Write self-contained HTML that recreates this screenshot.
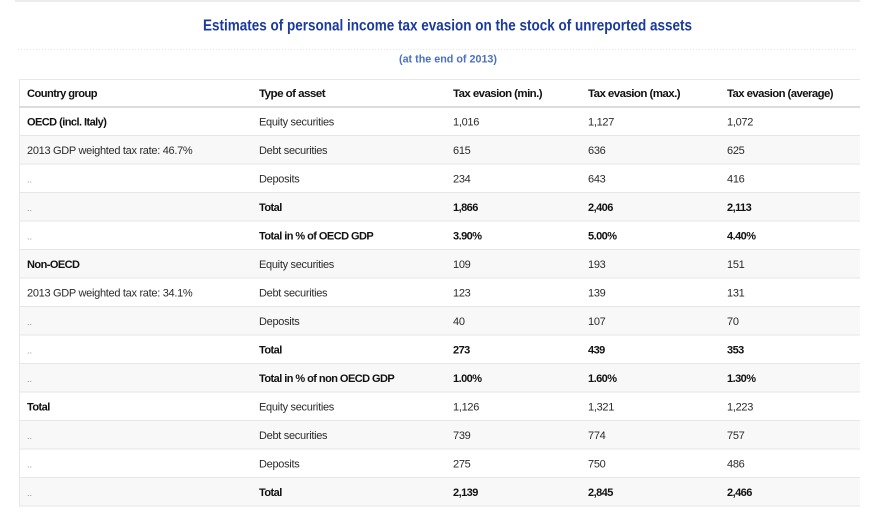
<!DOCTYPE html>
<html><head><meta charset="utf-8"><style>
html,body{margin:0;padding:0;background:#fff;}
svg{display:block;}
text{font-family:"Liberation Sans",Arial,sans-serif;}
.b{font-size:11px;fill:#2b2b2b;letter-spacing:-0.3px;}
.bb{font-size:11px;fill:#111;font-weight:bold;letter-spacing:-0.55px;}
.d{font-size:9px;fill:#888;}
</style></head><body>
<svg width="878" height="531" viewBox="0 0 878 531" xmlns="http://www.w3.org/2000/svg">
<rect x="0" y="0" width="878" height="531" fill="#fff"/>
<rect x="15" y="0" width="845" height="2" fill="#ececec"/>
<text x="447.5" y="30.5" text-anchor="middle" font-size="15.5" font-weight="bold" fill="#1b3a9e" textLength="489" lengthAdjust="spacingAndGlyphs">Estimates of personal income tax evasion on the stock of unreported assets</text>
<line x1="18" y1="49.5" x2="858" y2="49.5" stroke="#e6e6e6" stroke-width="1" stroke-dasharray="1,2"/>
<text x="448" y="62.5" text-anchor="middle" font-size="11" font-weight="bold" fill="#4a70c4" textLength="98" lengthAdjust="spacingAndGlyphs">(at the end of 2013)</text>

<!-- table -->
<rect x="19" y="79" width="841" height="427" fill="#fff"/>
<g fill="#f8f8f8">
<rect x="19" y="135.5" width="841" height="28.5"/>
<rect x="19" y="192.5" width="841" height="28.5"/>
<rect x="19" y="249.5" width="841" height="28.5"/>
<rect x="19" y="306.5" width="841" height="28.5"/>
<rect x="19" y="363.5" width="841" height="28.5"/>
<rect x="19" y="420.5" width="841" height="28.5"/>
<rect x="19" y="477.5" width="841" height="28.5"/>
</g>
<line x1="19" y1="79.5" x2="860" y2="79.5" stroke="#e8e8e8"/>
<line x1="19.5" y1="79" x2="19.5" y2="506" stroke="#e6e6e6"/>
<line x1="19" y1="107" x2="860" y2="107" stroke="#dcdcdc" stroke-width="2"/>
<g stroke="#e6e6e6" stroke-width="1">
<line x1="19" y1="135.5" x2="860" y2="135.5"/>
<line x1="19" y1="164" x2="860" y2="164"/>
<line x1="19" y1="192.5" x2="860" y2="192.5"/>
<line x1="19" y1="221" x2="860" y2="221"/>
<line x1="19" y1="249.5" x2="860" y2="249.5"/>
<line x1="19" y1="278" x2="860" y2="278"/>
<line x1="19" y1="306.5" x2="860" y2="306.5"/>
<line x1="19" y1="335" x2="860" y2="335"/>
<line x1="19" y1="363.5" x2="860" y2="363.5"/>
<line x1="19" y1="392" x2="860" y2="392"/>
<line x1="19" y1="420.5" x2="860" y2="420.5"/>
<line x1="19" y1="449" x2="860" y2="449"/>
<line x1="19" y1="477.5" x2="860" y2="477.5"/>
<line x1="19" y1="506" x2="860" y2="506"/>
</g>

<!-- header -->
<text class="bb" x="27" y="97" textLength="70" lengthAdjust="spacingAndGlyphs">Country group</text>
<text class="bb" x="259" y="97" textLength="66" lengthAdjust="spacingAndGlyphs">Type of asset</text>
<text class="bb" x="453" y="97" textLength="89" lengthAdjust="spacingAndGlyphs">Tax evasion (min.)</text>
<text class="bb" x="588" y="97" textLength="92" lengthAdjust="spacingAndGlyphs">Tax evasion (max.)</text>
<text class="bb" x="727" y="97" textLength="106" lengthAdjust="spacingAndGlyphs">Tax evasion (average)</text>

<!-- rows -->
<g>
<text class="bb" x="27" y="125.5">OECD (incl. Italy)</text>
<text class="b" x="259" y="125.5">Equity securities</text>
<text class="b" x="453" y="125.5">1,016</text>
<text class="b" x="588" y="125.5">1,127</text>
<text class="b" x="727" y="125.5">1,072</text>

<text class="b" x="27" y="154">2013 GDP weighted tax rate: 46.7%</text>
<text class="b" x="259" y="154">Debt securities</text>
<text class="b" x="453" y="154">615</text>
<text class="b" x="588" y="154">636</text>
<text class="b" x="727" y="154">625</text>

<text class="d" x="27" y="182.5">..</text>
<text class="b" x="259" y="182.5">Deposits</text>
<text class="b" x="453" y="182.5">234</text>
<text class="b" x="588" y="182.5">643</text>
<text class="b" x="727" y="182.5">416</text>

<text class="d" x="27" y="211">..</text>
<text class="bb" x="259" y="211">Total</text>
<text class="bb" x="453" y="211">1,866</text>
<text class="bb" x="588" y="211">2,406</text>
<text class="bb" x="727" y="211">2,113</text>

<text class="d" x="27" y="239.5">..</text>
<text class="bb" x="259" y="239.5">Total in % of OECD GDP</text>
<text class="bb" x="453" y="239.5">3.90%</text>
<text class="bb" x="588" y="239.5">5.00%</text>
<text class="bb" x="727" y="239.5">4.40%</text>

<text class="bb" x="27" y="268">Non-OECD</text>
<text class="b" x="259" y="268">Equity securities</text>
<text class="b" x="453" y="268">109</text>
<text class="b" x="588" y="268">193</text>
<text class="b" x="727" y="268">151</text>

<text class="b" x="27" y="296.5">2013 GDP weighted tax rate: 34.1%</text>
<text class="b" x="259" y="296.5">Debt securities</text>
<text class="b" x="453" y="296.5">123</text>
<text class="b" x="588" y="296.5">139</text>
<text class="b" x="727" y="296.5">131</text>

<text class="d" x="27" y="325">..</text>
<text class="b" x="259" y="325">Deposits</text>
<text class="b" x="453" y="325">40</text>
<text class="b" x="588" y="325">107</text>
<text class="b" x="727" y="325">70</text>

<text class="d" x="27" y="353.5">..</text>
<text class="bb" x="259" y="353.5">Total</text>
<text class="bb" x="453" y="353.5">273</text>
<text class="bb" x="588" y="353.5">439</text>
<text class="bb" x="727" y="353.5">353</text>

<text class="d" x="27" y="382">..</text>
<text class="bb" x="259" y="382">Total in % of non OECD GDP</text>
<text class="bb" x="453" y="382">1.00%</text>
<text class="bb" x="588" y="382">1.60%</text>
<text class="bb" x="727" y="382">1.30%</text>

<text class="bb" x="27" y="410.5">Total</text>
<text class="b" x="259" y="410.5">Equity securities</text>
<text class="b" x="453" y="410.5">1,126</text>
<text class="b" x="588" y="410.5">1,321</text>
<text class="b" x="727" y="410.5">1,223</text>

<text class="d" x="27" y="439">..</text>
<text class="b" x="259" y="439">Debt securities</text>
<text class="b" x="453" y="439">739</text>
<text class="b" x="588" y="439">774</text>
<text class="b" x="727" y="439">757</text>

<text class="d" x="27" y="467.5">..</text>
<text class="b" x="259" y="467.5">Deposits</text>
<text class="b" x="453" y="467.5">275</text>
<text class="b" x="588" y="467.5">750</text>
<text class="b" x="727" y="467.5">486</text>

<text class="d" x="27" y="496">..</text>
<text class="bb" x="259" y="496">Total</text>
<text class="bb" x="453" y="496">2,139</text>
<text class="bb" x="588" y="496">2,845</text>
<text class="bb" x="727" y="496">2,466</text>
</g>
</svg>
</body></html>
